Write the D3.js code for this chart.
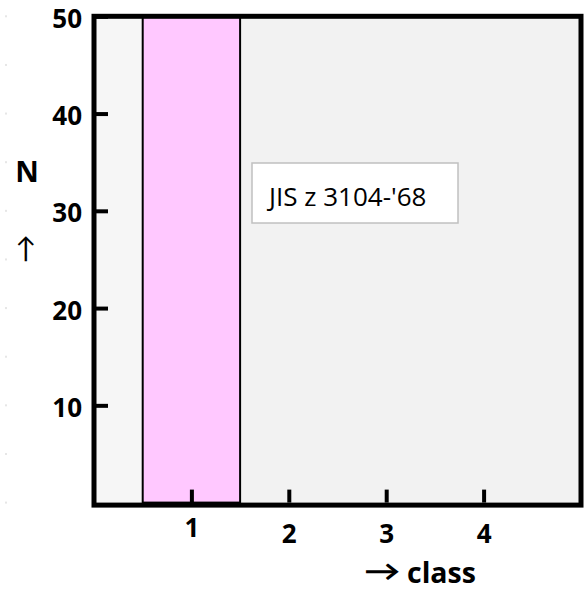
<!DOCTYPE html>
<html><head><meta charset="utf-8">
<script src="https://cdn.jsdelivr.net/npm/d3@7"></script>
<style>body{margin:0;background:#fff;} text{font-family:"Open Sans",Lato,sans-serif;}</style>
</head><body>
<svg id="c" width="585" height="591"></svg>
<script>
const categories = [1, 2, 3, 4];
const values = [50, 0, 0, 0];
const yTicks = [10, 20, 30, 40, 50];
const legendLabel = "JIS z 3104-'68";
const xTitle = "class";
const yTitle = "N";

const svg = d3.select("#c");
const x = d3.scaleLinear().domain([0, 5]).range([94, 581]);
const y = d3.scaleLinear().domain([0, 50]).range([502.6, 16.3]);

// faint marks at far left
svg.append("g").selectAll("rect").data(d3.range(0, 51, 5)).join("rect")
  .attr("x", 5).attr("y", d => y(d) - 1).attr("width", 2).attr("height", 2).attr("fill", "#e6e6e6");

// plot background
svg.append("rect").attr("x", x(0)).attr("y", y(50)).attr("width", x(5) - x(0)).attr("height", y(0) - y(50)).attr("fill", "#f2f2f2");
svg.append("rect").attr("x", x(0)).attr("y", y(50)).attr("width", x(0.5) - x(0)).attr("height", y(0) - y(50)).attr("fill", "#f6f6f6");

// bars
svg.append("g").selectAll("rect").data(categories.map((c, i) => ({c, v: values[i]})).filter(d => d.v > 0)).join("rect")
  .attr("x", d => x(d.c - 0.5)).attr("y", d => y(d.v))
  .attr("width", d => x(d.c + 0.5) - x(d.c - 0.5)).attr("height", d => y(0) - y(d.v))
  .attr("fill", "#ffc8ff").attr("stroke", "#000").attr("stroke-width", 2);

// x axis ticks (inside)
const xAxis = d3.axisBottom(x).tickValues(categories).tickSize(-13).tickPadding(31).tickFormat(d3.format("d"));
const gx = svg.append("g").attr("transform", `translate(0,${y(0)})`).call(xAxis);
gx.select(".domain").remove();
gx.selectAll(".tick line").attr("stroke", "#000").attr("stroke-width", 4);
gx.selectAll(".tick text").attr("font-size", 26).attr("font-weight", "bold").attr("fill", "#000")
  .attr("dy", (d, i) => i === 0 ? "0.12em" : "0.36em");

// y axis ticks (inside)
const yAxis = d3.axisLeft(y).tickValues(yTicks).tickSize(-14).tickPadding(12);
const gy = svg.append("g").attr("transform", `translate(${x(0)},0)`).call(yAxis);
gy.select(".domain").remove();
gy.selectAll(".tick line").attr("stroke", "#000").attr("stroke-width", 4);
gy.selectAll(".tick text").attr("font-size", 26).attr("font-weight", "bold").attr("fill", "#000").attr("dy", "0.42em");

// frame
svg.append("rect").attr("x", x(0)).attr("y", y(50)).attr("width", x(5) - x(0)).attr("height", y(0) - y(50) + 2.5)
  .attr("fill", "none").attr("stroke", "#000").attr("stroke-width", 5);

// legend
svg.append("rect").attr("x", 252).attr("y", 163).attr("width", 206).attr("height", 60)
  .attr("fill", "#fff").attr("stroke", "#c0c0c0").attr("stroke-width", 1.5);
svg.append("text").attr("x", 269).attr("y", 206).attr("font-family", "Lato, sans-serif").attr("font-size", 26).attr("fill", "#000").text(legendLabel);

// axis titles
svg.append("text").attr("x", 27).attr("y", 182).attr("text-anchor", "middle").attr("font-size", 29).attr("font-weight", "bold").text(yTitle);
svg.append("text").attr("x", 26).attr("y", 258).attr("text-anchor", "middle").attr("font-family", "Lato, sans-serif").attr("font-size", 28).text("↑");
svg.append("text").attr("transform", "translate(364,581) scale(1.3,1)").attr("font-family", "DejaVu Sans, sans-serif").attr("font-size", 28).attr("font-weight", "bold").text("→");
svg.append("text").attr("x", 407).attr("y", 582.5).attr("font-size", 28.5).attr("font-weight", "bold").text(xTitle);
</script>
</body></html>
